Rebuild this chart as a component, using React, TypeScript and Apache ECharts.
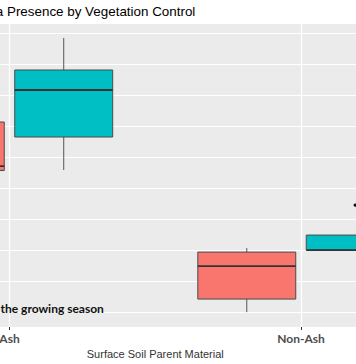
import React, { useEffect, useRef } from 'react';
import * as echarts from 'echarts';

// Categories on the x axis (value positions 1, 2)
const categories = ['Ash', 'Non-Ash'];
const groupNames = ['Control', 'Treated'];
const groupColors = ['#F8766D', '#00BFC4'];
// [min, Q1, median, Q3, max] per category
const redStats = [
  [4.2, 4.565, 4.71, 6.13, 7.0],
  [0.0, 0.42, 1.484, 1.935, 2.064],
];
const tealStats = [
  [4.582, 5.646, 7.162, 7.807, 8.84],
  [2.0, 2.0, 2.0, 2.484, 2.484],
];
// [categoryIndex, value]
const tealOutliers = [[1, 3.45]];
const titleText = 'a Presence by Vegetation Control';
const noteText = 'the growing season';
const xAxisTitle = 'Surface Soil Parent Material';

const DODGE = 0.186;
const HALF = 0.168;

function boxRender(offset: number, color: string) {
  return (params: any, api: any) => {
    const x = api.value(0);
    const lo = api.value(1);
    const q1 = api.value(2);
    const med = api.value(3);
    const q3 = api.value(4);
    const hi = api.value(5);
    const cx = x + offset;
    const tl = api.coord([cx - HALF, q3]);
    const br = api.coord([cx + HALF, q1]);
    const pm = api.coord([cx, med]);
    const pHi = api.coord([cx, hi]);
    const pLo = api.coord([cx, lo]);
    const pQ3 = api.coord([cx, q3]);
    const pQ1 = api.coord([cx, q1]);
    const whisker = { stroke: '#555', lineWidth: 1 };
    return {
      type: 'group',
      children: [
        { type: 'line', shape: { x1: pQ3[0], y1: pQ3[1], x2: pHi[0], y2: pHi[1] }, style: whisker },
        { type: 'line', shape: { x1: pQ1[0], y1: pQ1[1], x2: pLo[0], y2: pLo[1] }, style: whisker },
        {
          type: 'rect',
          shape: { x: tl[0], y: tl[1], width: br[0] - tl[0], height: br[1] - tl[1] },
          style: { fill: color, stroke: '#4a4a4a', lineWidth: 1 },
        },
        {
          type: 'line',
          shape: { x1: tl[0], y1: pm[1], x2: br[0], y2: pm[1] },
          style: { stroke: '#333', lineWidth: 1.8 },
        },
      ],
    };
  };
}

export default function App() {
  const ref = useRef<HTMLDivElement>(null);
  useEffect(() => {
    if (!ref.current) return;
    const chart = echarts.init(ref.current, undefined, { renderer: 'svg' });
    const option: any = {
      animation: false,
      backgroundColor: '#fff',
      grid: {
        left: -136.25,
        width: 583,
        top: 24,
        height: 303,
        show: true,
        backgroundColor: '#EBEBEB',
        borderWidth: 0,
        containLabel: false,
        outerBoundsMode: 'none',
      },
      xAxis: {
        type: 'value',
        min: 0.5,
        max: 2.5,
        minInterval: 1,
        maxInterval: 1,
        axisLine: { show: false, onZero: false },
        axisTick: { show: true, length: 3, lineStyle: { color: '#333', width: 1 } },
        axisLabel: {
          margin: 5,
          fontFamily: 'Lato',
          fontWeight: 'bold',
          fontSize: 12,
          color: '#4D4D4D',
          hideOverlap: false,
          formatter: (v: number) => {
            const r = Math.round(v);
            return Math.abs(v - r) < 1e-6 && categories[r - 1] ? categories[r - 1] : '';
          },
        },
        splitLine: { show: true, showMinLine: false, showMaxLine: false, lineStyle: { color: '#fff', width: 1.3 } },
        name: xAxisTitle,
        nameLocation: 'middle',
        nameGap: 18,
        nameTextStyle: { fontFamily: 'Liberation Sans', fontSize: 11, color: '#333' },
      },
      yAxis: {
        type: 'value',
        min: -0.48,
        max: 9.29,
        minInterval: 1,
        maxInterval: 1,
        axisLine: { show: false, onZero: false },
        axisTick: { show: false },
        axisLabel: { show: false },
        splitLine: { show: true, showMinLine: false, showMaxLine: false, lineStyle: { color: '#fff', width: 1.2 } },
      },
      series: [
        {
          name: groupNames[0],
          type: 'custom',
          renderItem: boxRender(-DODGE, groupColors[0]),
          data: redStats.map((s, i) => [i + 1, ...s]),
          encode: { x: 0, y: [1, 2, 3, 4, 5] },
          clip: false,
        },
        {
          name: groupNames[1],
          type: 'custom',
          renderItem: boxRender(DODGE, groupColors[1]),
          data: tealStats.map((s, i) => [i + 1, ...s]),
          encode: { x: 0, y: [1, 2, 3, 4, 5] },
          clip: false,
        },
        {
          name: groupNames[1] + ' outliers',
          type: 'custom',
          renderItem: (params: any, api: any) => {
            const p = api.coord([api.value(0) + DODGE, api.value(1)]);
            return { type: 'circle', shape: { cx: p[0], cy: p[1], r: 1.7 }, style: { fill: '#111' } };
          },
          data: tealOutliers.map(([c, v]) => [c + 1, v]),
          encode: { x: 0, y: 1 },
          clip: false,
        },
      ],
      graphic: [
        {
          type: 'text',
          x: -4.2,
          y: 11.5,
          z: 100,
          style: {
            text: titleText,
            fontFamily: 'Liberation Sans',
            fontSize: 13.4,
            fill: '#000',
            align: 'left',
            verticalAlign: 'middle',
          },
        },
        {
          type: 'text',
          x: 0.5,
          y: 308,
          z: 100,
          style: {
            text: noteText,
            fontFamily: 'Lato',
            fontWeight: 'bold',
            fontSize: 12,
            fill: '#111',
            align: 'left',
            verticalAlign: 'middle',
          },
        },
      ],
    };
    chart.setOption(option);
    return () => chart.dispose();
  }, []);
  return (
    <div
      ref={ref}
      style={{ position: 'fixed', left: 0, top: 0, width: 356, height: 364, background: '#fff' }}
    />
  );
}
